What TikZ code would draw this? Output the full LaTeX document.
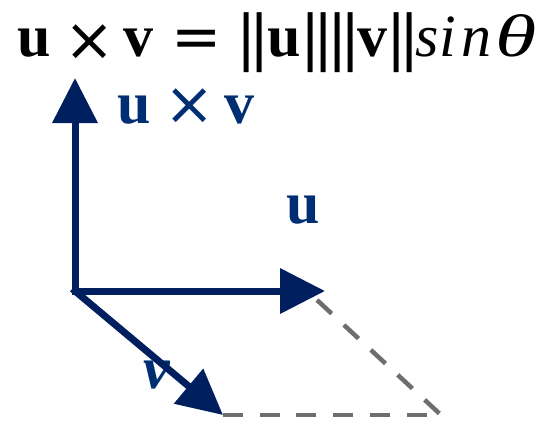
\documentclass[tikz,border=0pt]{standalone}
\usepackage{fontspec}
\setmainfont{Liberation Serif}
\newfontfamily\dvsans{DejaVu Sans}
\usetikzlibrary{arrows.meta}
\definecolor{arrowblue}{RGB}{0,31,95}
\definecolor{labelblue}{RGB}{0,46,115}
\definecolor{dashgray}{RGB}{110,110,110}
\newcommand{\nx}[2]{\hspace{#1pt}\makebox[0pt]{#2}}
\newcommand{\bars}{\raisebox{-2.5pt}{\dvsans\makebox[0pt]{|}\hspace{13pt}\makebox[0pt]{|}}}
\newcommand{\tms}{\raisebox{-4pt}{\dvsans ×}}
\begin{document}
\begin{tikzpicture}[x=1pt,y=-1pt,
  vec/.style={draw=arrowblue, line width=7pt, line cap=rect, -{Triangle[length=45pt,width=44pt]}},
  guide/.style={draw=dashgray, line width=4.5pt, dash pattern=on 20pt off 16.7pt},
  big/.style={inner sep=0pt, font=\fontsize{60}{72}\selectfont},
  lbl/.style={big, text=labelblue, anchor=base west}]
\useasboundingbox (0,0) rectangle (557,424);
\node[big, anchor=base west] (title) at (34,56) {\makebox[0pt]{\textbf{u}}\nx{55.5}{\tms}\nx{49}{\textbf{v}}\nx{57.5}{\raisebox{-1pt}{\dvsans =}}\nx{57}{\bars}\nx{31}{\textbf{u}}\nx{33}{\bars}\nx{26.5}{\bars}\nx{29}{\textbf{v}}\nx{30}{\bars}\nx{24.5}{\textit{s}}\nx{21}{\textit{i}}\nx{28}{\textit{n}}\nx{40}{\scalebox{1.4}[1]{\textit{θ}}}};
\node[lbl] (luv) at (134,123) {\makebox[0pt]{\textbf{u}}\nx{55}{\raisebox{-1.5pt}{\dvsans ×}}\nx{50}{\textbf{v}}};
\node[lbl] (lu) at (302,223) {\makebox[0pt]{\textbf{u}}};
\node[lbl] (lv) at (156,388) {\makebox[0pt]{\textbf{\textit{v}}}};
\coordinate (O) at (75,291);
\coordinate (A) at (75,78);
\coordinate (U) at (325,291);
\coordinate (V) at (223,415);
\coordinate (D) at (317,300);
\coordinate (C) at (441,415);
\draw[guide] (D) -- (C);
\draw[guide] (V) -- (C);
\draw[vec] (O) -- (A);
\draw[vec] (O) -- (U);
\draw[vec] (O) -- (V);
\end{tikzpicture}
\end{document}
